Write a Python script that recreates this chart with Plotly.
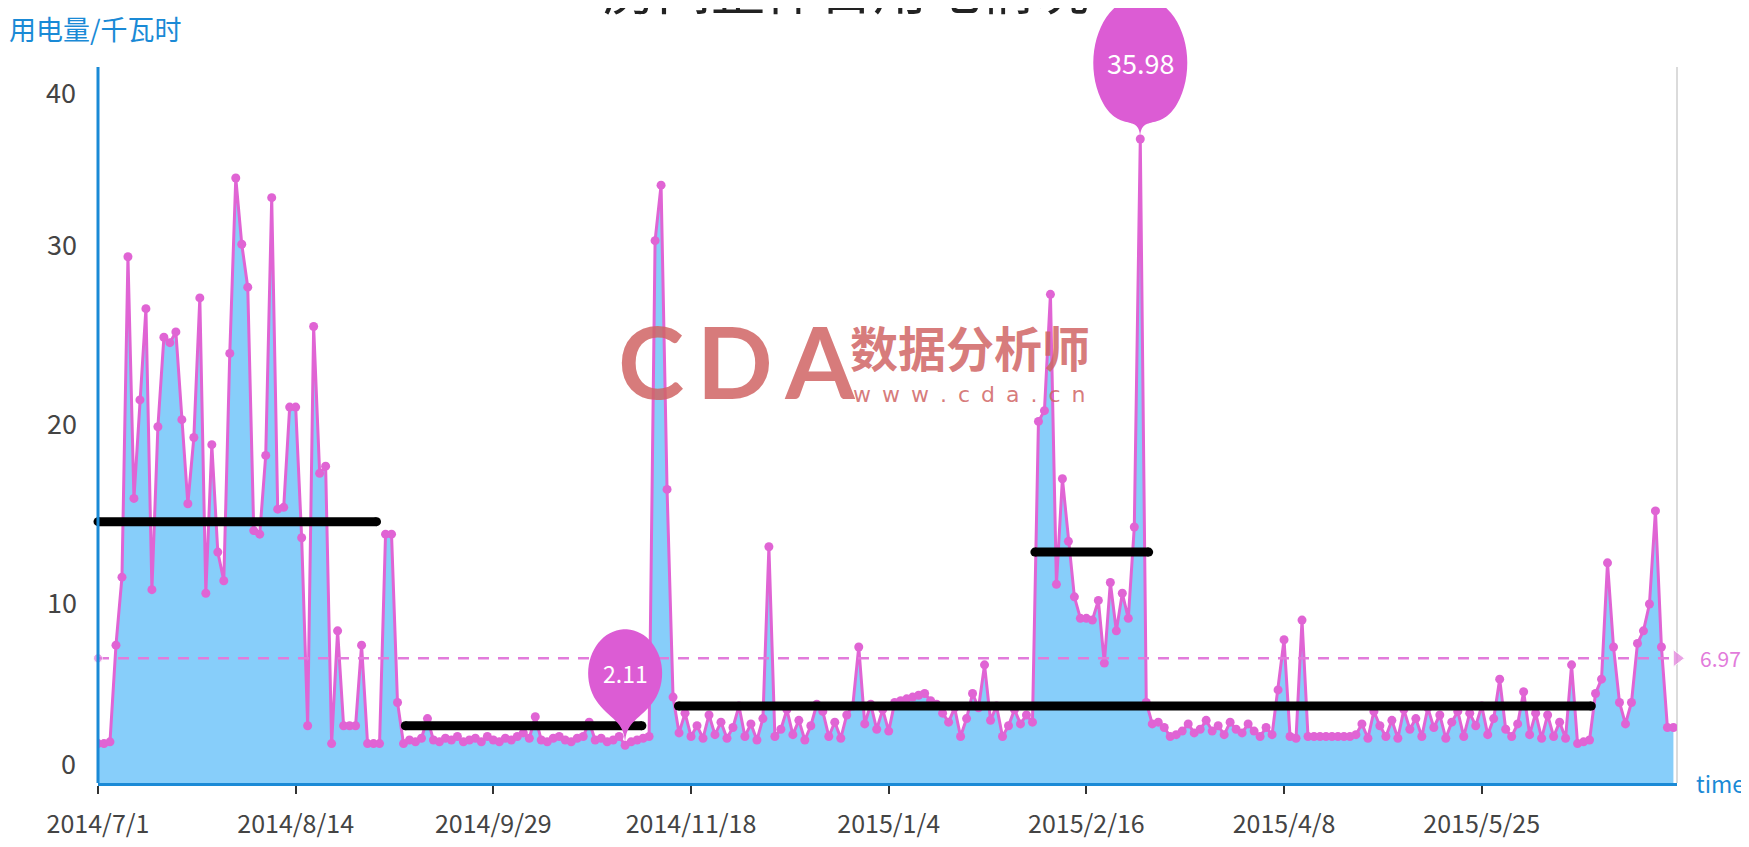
import numpy as np
import plotly.graph_objects as go

# ---------------- data ----------------
tick_labels = ["2014/7/1", "2014/8/14", "2014/9/29", "2014/11/18",
               "2015/1/4", "2015/2/16", "2015/4/8", "2015/5/25"]
label_interval = 33  # categories between labelled dates

usage = [
    # Jul - Aug 2014
    2.2, 2.2, 2.3, 7.7, 11.5, 29.4, 15.9, 21.4, 26.5, 10.8,
    19.9, 24.9, 24.6, 25.2, 20.3, 15.6, 19.3, 27.1, 10.6, 18.9,
    12.9, 11.3, 24.0, 33.8, 30.1, 27.7, 14.1, 13.9, 18.3, 32.7,
    15.3, 15.4, 21.0, 21.0, 13.7, 3.2, 25.5, 17.3, 17.7, 2.2,
    8.5, 3.2, 3.2, 3.2, 7.7, 2.2, 2.2, 2.2, 13.9, 13.9,
    4.5, 2.2,
    # Sep - Nov 2014
    2.4, 2.3, 2.5, 3.6, 2.4, 2.3, 2.5, 2.4, 2.6, 2.3,
    2.4, 2.5, 2.3, 2.6, 2.4, 2.3, 2.5, 2.4, 2.6, 2.8,
    2.5, 3.7, 2.4, 2.3, 2.5, 2.6, 2.4, 2.3, 2.5, 2.6,
    3.4, 2.4, 2.5, 2.3, 2.4, 2.6, 2.11, 2.3, 2.4, 2.5,
    2.6, 30.3, 33.4, 16.4, 4.8,
    # Nov 2014 - Feb 2015
    2.8, 3.9, 2.6, 3.2, 2.5, 3.8, 2.7, 3.4, 2.5, 3.1,
    4.3, 2.6, 3.3, 2.4, 3.6, 13.2, 2.6, 3.0, 4.1, 2.7,
    3.5, 2.4, 3.2, 4.4, 4.0, 2.6, 3.4, 2.5, 3.8, 4.3,
    7.6, 3.3, 4.4, 3.0, 4.1, 2.9, 4.5, 4.6, 4.7,
    4.8, 4.9, 5.0, 4.6, 4.4, 3.9, 3.4, 4.2, 2.6, 3.6,
    5.0, 4.2, 6.6, 3.5, 4.3, 2.6, 3.2, 4.1, 3.3, 3.8,
    3.4,
    # Feb 2015
    20.2, 20.8, 27.3, 11.1, 17.0, 13.5, 10.4, 9.2, 9.2, 9.1,
    10.2, 6.7, 11.2, 8.5, 10.6, 9.2, 14.3, 35.98, 4.5, 3.3,
    # Mar - Jul 2015
    3.4, 3.1, 2.6, 2.7, 2.9, 3.3, 2.8, 3.0, 3.5, 2.9,
    3.2, 2.7, 3.4, 3.0, 2.8, 3.3, 2.9, 2.6, 3.1, 2.7,
    5.2, 8.0, 2.6, 2.5, 9.1, 2.6,
    2.6, 2.6, 2.6, 2.6, 2.6, 2.6, 2.6, 2.7, 3.3, 2.5,
    4.0, 3.2, 2.6, 3.5, 2.5, 4.1, 3.0, 3.6, 2.6, 4.2,
    3.1, 3.8, 2.5, 3.4, 4.0, 2.6, 3.9, 3.2, 4.3, 2.7,
    3.6, 5.8, 3.0, 2.6, 3.3, 5.1, 2.7, 3.9, 2.5, 3.8,
    2.6, 3.4, 2.5, 6.6, 2.2, 2.3, 2.4, 5.0, 5.8, 12.3,
    7.6, 4.5, 3.3, 4.5, 7.8, 8.5, 10.0, 15.2, 7.6, 3.1,
    3.1,
]

mean_value = 6.97

# period averages drawn as thick black bars (category positions)
seg_start = [0, 51.3, 96.9, 156.4]
seg_end = [46.5, 90.8, 249.3, 175.4]
seg_level = [14.6, 3.2, 4.3, 12.9]

title_text = "房间整体日用电情况"
y_name = "用电量/千瓦时"
x_name = "time"

# ---------------- style ----------------
W, H = 1749, 847
L, R, T, B = 90, 80, 0, 72
PLOT_W = W - L - R
PLOT_H = H - T - B
Y40_PX = 59                      # pixel row of value 40
YMAX = 40 * PLOT_H / (PLOT_H - Y40_PX)
X_END = len(usage) - 1 + 0.6     # axis extends a little past the last day

PINK = "#e064d4"
PIN = "#dc5cd4"
MEAN_PINK = "#e27bdb"
FILL = "#87cefa"
AXIS_BLUE = "#1a8ad6"
TICK_GREY = "#444444"
FONT = "Noto Sans CJK SC, Open Sans, sans-serif"
WM = "rgba(208,100,100,0.85)"

x = list(range(len(usage)))


def px_x(px):
    return (px - L) / PLOT_W


def px_y(py):
    return 1 - (py - T) / PLOT_H


def pin_path(rx, ry, h, n=48):
    a = np.deg2rad(38)
    t = np.linspace(-a, np.pi + a, n)
    xs = rx * np.cos(t)
    ys = h + ry * np.sin(t)
    pts = " L".join(f"{X:.2f},{Y:.2f}" for X, Y in zip(xs, ys))
    xr, yr = xs[0], ys[0]
    xl, yl = xs[-1], ys[-1]
    return (f"M{pts} C{xl * 0.55:.2f},{yl - ry * 0.45:.2f} 0,{h * 0.35:.2f} 0,0 "
            f"C0,{h * 0.35:.2f} {xr * 0.55:.2f},{yr - ry * 0.45:.2f} {xr:.2f},{yr:.2f} Z")


fig = go.Figure()

# area + line
fig.add_trace(go.Scatter(
    x=x, y=usage, mode="lines+markers", fill="tozeroy", fillcolor=FILL,
    line=dict(color=PINK, width=3), marker=dict(size=9, color=PINK),
    showlegend=False, hoverinfo="x+y"))

# mean line
fig.add_trace(go.Scatter(
    x=[x[0], X_END], y=[mean_value, mean_value], mode="lines+markers",
    line=dict(color=MEAN_PINK, width=2.3, dash="11px,9px"),
    marker=dict(symbol=["circle", "triangle-right"], size=[9, 15], color=MEAN_PINK),
    cliponaxis=False, showlegend=False, hoverinfo="skip"))

# period average bars
for s, e, lv in zip(seg_start, seg_end, seg_level):
    fig.add_trace(go.Scatter(
        x=[s, e], y=[lv, lv], mode="lines+markers",
        line=dict(color="black", width=9), marker=dict(size=9, color="black"),
        cliponaxis=False, showlegend=False, hoverinfo="skip"))

shapes = [
    dict(type="line", xref="paper", yref="y", x0=0, x1=0, y0=0, y1=40,
         line=dict(color=AXIS_BLUE, width=3), layer="above"),
    dict(type="line", xref="paper", yref="y", x0=1, x1=1, y0=0, y1=40,
         line=dict(color="#cfcfcf", width=1.5), layer="below"),
]

annotations = []

# max / min pins
vals = np.array(usage)
imax, imin = int(vals.argmax()), int(vals.argmin())
for idx, rx, ry, h, fs in [(imax, 47, 66, 76, 27), (imin, 37, 44, 72, 23)]:
    shapes.append(dict(type="path", xref="x", yref="y", xsizemode="pixel", ysizemode="pixel",
                       xanchor=idx, yanchor=usage[idx], path=pin_path(rx, ry, h),
                       fillcolor=PIN, line=dict(width=0), layer="above"))
    annotations.append(dict(x=idx, y=usage[idx], xref="x", yref="y", yshift=h,
                            text=f"{usage[idx]:.2f}", showarrow=False,
                            font=dict(color="white", size=fs, family=FONT)))

# y tick labels 0 and 40 (drawn slightly inside, as in the reference)
for v, sh in [(0, 21), (40, -24)]:
    annotations.append(dict(x=0, y=v, xref="paper", yref="y", xanchor="right",
                            xshift=-20, yshift=sh, text=str(v), showarrow=False,
                            font=dict(color=TICK_GREY, size=27, family=FONT)))

annotations += [
    dict(x=0, y=1, xref="paper", yref="paper", xanchor="left", yanchor="middle",
         xshift=-L - 1, yshift=-20, text=y_name, showarrow=False,
         font=dict(color=AXIS_BLUE, size=27, family=FONT)),
    dict(x=1, y=0, xref="paper", yref="y", xanchor="left", yanchor="middle",
         xshift=17, text=x_name, showarrow=False,
         font=dict(color=AXIS_BLUE, size=23, family=FONT)),
    dict(x=1, y=mean_value, xref="paper", yref="y", xanchor="left", yanchor="middle",
         xshift=21, text=f"{mean_value:.2f}", showarrow=False,
         font=dict(color=MEAN_PINK, size=21, family=FONT)),
    dict(x=px_x(838), y=1, xref="paper", yref="paper", xanchor="center", yanchor="bottom",
         yshift=-20, text=title_text, showarrow=False,
         font=dict(color="#222222", size=54, family=FONT)),
    # watermark
    dict(x=px_x(728), y=px_y(352), xref="paper", yref="paper", text="<b>C\u2009D\u2009A</b>",
         showarrow=False, font=dict(color=WM, size=100, family="Lato, sans-serif")),
    dict(x=px_x(962), y=px_y(338), xref="paper", yref="paper", text="<b>数据分析师</b>",
         showarrow=False, font=dict(color=WM, size=48, family=FONT)),
    dict(x=px_x(962), y=px_y(386), xref="paper", yref="paper",
         text="\u2002".join("www.cda.cn"),
         showarrow=False, font=dict(color=WM, size=22, family="DejaVu Sans, sans-serif")),
]

fig.update_layout(
    width=W, height=H, margin=dict(l=L, r=R, t=T, b=B),
    paper_bgcolor="white", plot_bgcolor="white",
    shapes=shapes, annotations=annotations, showlegend=False,
    xaxis=dict(range=[0, X_END], tickvals=[i * label_interval for i in range(len(tick_labels))],
               ticktext=tick_labels, ticks="outside", ticklen=8, tickwidth=1.5, tickcolor="#333333",
               showline=True, linecolor=AXIS_BLUE, linewidth=3, showgrid=False, zeroline=False,
               tickfont=dict(color=TICK_GREY, size=25, family=FONT), ticklabelstandoff=9),
    yaxis=dict(range=[0, YMAX], tickvals=[10, 20, 30], showline=False, showgrid=False,
               zeroline=False, ticks="", ticklabelstandoff=20,
               tickfont=dict(color=TICK_GREY, size=27, family=FONT)),
)

fig.write_html("out.html")
